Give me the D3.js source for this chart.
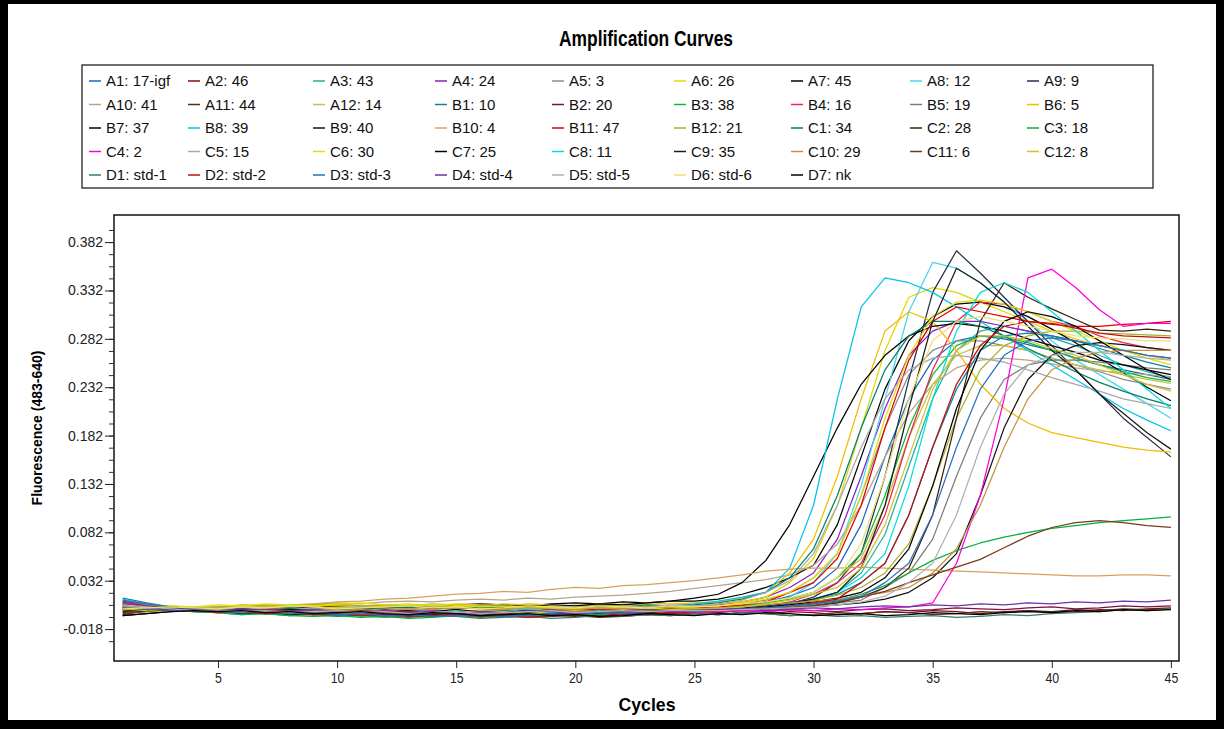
<!DOCTYPE html>
<html><head><meta charset="utf-8">
<script src="https://cdn.jsdelivr.net/npm/d3@7"></script>
<style>body{margin:0;background:#000;overflow:hidden}svg{display:block}</style>
</head><body>
<svg id="chart" width="1224" height="729"></svg>
<script>
// ---- data ----
const cycles = d3.range(1, 46);
const seriesNames = ["A1: 17-igf","A2: 46","A3: 43","A4: 24","A5: 3","A6: 26","A7: 45","A8: 12","A9: 9",
"A10: 41","A11: 44","A12: 14","B1: 10","B2: 20","B3: 38","B4: 16","B5: 19","B6: 5",
"B7: 37","B8: 39","B9: 40","B10: 4","B11: 47","B12: 21","C1: 34","C2: 28","C3: 18",
"C4: 2","C5: 15","C6: 30","C7: 25","C8: 11","C9: 35","C10: 29","C11: 6","C12: 8",
"D1: std-1","D2: std-2","D3: std-3","D4: std-4","D5: std-5","D6: std-6","D7: nk"];
const seriesColors = ["#1668b8","#8a0808","#20b0a0","#8a20c0","#8c8c8c","#e6d400","#000000","#48d4f0","#26304a",
"#b4a488","#5a2a1a","#c8c040","#0a84a0","#7a1048","#10b830","#f0205a","#7c7c7c","#f0bc00",
"#000000","#00c4e8","#141414","#d8a060","#e00000","#a8b030","#00806a","#3e2010","#00b040",
"#ff00dc","#a8a8a8","#e0e000","#000000","#00dede","#1c1c1c","#c89040","#7a3a18","#d0c030",
"#3a7a70","#c01010","#2a70c0","#7030a8","#b0b0b0","#ece070","#000000"];

const A1 = [.014,.009,.005,.003,.002,.001,.002,.000,-.001,.001,.000,-.002,.000,.001,-.001,.000,-.002,.001,.000,.002,.001,.000,.002,.003,.002,
 .004,.006,.01,.016,.025,.045,.09,.16,.22,.26,.28,.285,.282,.276,.27,.262,.255,.25,.245,.24];
const A2 = [.004,.002,.001,.000,-.001,.000,-.002,-.001,-.003,-.002,-.004,-.003,-.002,-.004,-.005,-.003,-.004,-.002,-.003,-.005,-.004,-.002,-.003,-.001,-.002,
 -.003,-.001,-.002,.000,-.001,-.003,-.002,.000,-.001,.001,.000,-.002,.000,.001,-.001,.000,.002,.001,.003,.004];
const A3 = [.008,.006,.004,.002,.001,.000,-.002,-.001,-.003,-.002,-.004,-.003,-.001,-.003,-.002,-.004,-.002,-.001,.000,-.002,.000,.001,.000,.002,.001,
 .003,.004,.006,.009,.013,.02,.04,.08,.15,.22,.27,.29,.295,.29,.283,.275,.265,.255,.248,.242];
const A4 = [.011,.007,.004,.003,.001,.002,.000,-.001,.001,.000,-.002,-.001,.000,-.003,-.001,.000,.001,-.001,.000,.002,.001,.003,.002,.004,.005,
 .007,.01,.015,.025,.04,.075,.14,.21,.265,.29,.3,.3,.295,.29,.285,.28,.275,.27,.265,.262];
const A5 = [.001,.002,.003,.002,.004,.003,.002,.004,.003,.005,.004,.003,.005,.004,.003,.005,.004,.006,.005,.004,.006,.005,.004,.006,.005,
 .006,.008,.012,.02,.035,.06,.12,.19,.245,.27,.28,.28,.275,.27,.262,.255,.248,.24,.235,.23];
const A6 = [.005,.003,.002,.003,.004,.003,.005,.004,.003,.005,.004,.006,.005,.004,.006,.005,.007,.006,.005,.007,.006,.008,.007,.006,.007,
 .008,.01,.015,.03,.055,.11,.19,.27,.325,.335,.33,.32,.31,.3,.29,.282,.275,.27,.265,.26];
const A7 = [.003,.002,.003,.004,.003,.005,.004,.003,.005,.006,.005,.007,.006,.005,.007,.008,.007,.006,.008,.009,.008,.01,.009,.011,.011,
 .013,.018,.025,.035,.048,.09,.16,.23,.28,.305,.318,.32,.315,.305,.292,.278,.262,.247,.232,.218];
const A8 = [.012,.007,.004,.002,.003,.001,.000,.002,.001,-.001,.000,.001,-.002,.000,.001,-.001,.000,.002,.001,.000,.002,.001,.003,.002,.003,
 .004,.006,.009,.015,.03,.06,.13,.22,.31,.361,.355,.34,.32,.3,.28,.26,.245,.23,.215,.2];
const A9 = [.006,.004,.002,.001,.002,.000,-.001,.001,.000,-.002,-.001,.000,-.003,-.001,.000,-.002,-.001,.001,.000,-.001,.001,.000,.002,.001,.002,
 .002,.004,.005,.008,.015,.03,.06,.14,.24,.33,.373,.35,.325,.3,.275,.25,.225,.2,.18,.16];
const A10 = [.004,.003,.004,.005,.004,.006,.007,.006,.008,.009,.008,.010,.011,.010,.012,.013,.012,.014,.013,.015,.016,.017,.019,.021,.024,
 .027,.03,.033,.038,.048,.07,.11,.16,.205,.235,.252,.26,.262,.26,.256,.252,.249,.247,.245,.243];
const A11 = [-.001,.001,.002,.001,.000,.002,.001,-.001,.000,-.002,-.001,-.003,-.002,-.004,-.003,-.005,-.004,-.006,-.005,-.004,-.006,-.005,-.003,-.004,-.002,
 -.003,-.001,-.002,-.004,-.003,-.001,-.002,.000,-.001,-.003,-.002,.000,-.001,.001,.000,.002,.001,.003,.002,.003];
const A12 = [.004,.005,.004,.003,.005,.006,.004,.005,.007,.006,.005,.007,.006,.008,.007,.006,.008,.007,.006,.005,.007,.006,.005,.006,.005,
 .005,.007,.01,.014,.02,.035,.055,.11,.18,.235,.265,.275,.275,.27,.262,.255,.25,.245,.24,.236];
const B1 = [.006,.004,.003,.002,.000,.001,-.001,.000,-.002,-.001,-.003,-.002,-.001,.000,-.002,-.001,.001,.000,-.001,.001,.000,.002,.001,.002,.002,
 .003,.004,.006,.008,.012,.018,.03,.05,.1,.17,.23,.27,.285,.288,.285,.28,.272,.265,.258,.252];
const B2 = [.007,.004,.002,.001,.003,.002,.000,.001,-.001,.000,-.002,-.001,.000,-.002,-.001,-.003,-.002,-.001,-.003,-.002,-.004,-.003,-.001,-.002,.000,
 -.001,.001,.000,.002,.001,.000,.002,.003,.001,.002,.004,.003,.002,.004,.005,.003,.004,.006,.005,.006];
const B3 = [.005,.003,.002,.000,-.001,-.003,-.002,-.004,-.003,-.005,-.004,-.006,-.004,-.005,-.003,-.004,-.002,-.003,-.001,-.002,.000,.001,.000,.002,.003,
 .004,.006,.009,.013,.02,.035,.06,.12,.19,.245,.275,.285,.284,.278,.27,.262,.255,.248,.242,.238];
const B4 = [.009,.006,.004,.002,.003,.002,.000,.001,.003,.001,-.001,.000,.002,.000,-.002,.001,.000,-.001,.001,.000,-.001,.001,.002,.000,.001,
 .002,.004,.006,.01,.018,.03,.05,.1,.18,.25,.3,.32,.318,.31,.3,.295,.285,.278,.273,.27];
const B5 = [.000,.001,.002,.001,.000,-.001,.001,.000,-.002,-.001,.000,-.002,-.001,-.003,-.002,-.001,-.003,-.002,-.001,.000,-.001,.001,.000,.001,.002,
 .002,.003,.004,.005,.007,.009,.012,.025,.04,.075,.14,.2,.24,.255,.26,.26,.258,.255,.252,.25];
const B6 = [.002,.003,.002,.004,.003,.005,.004,.006,.005,.007,.006,.005,.007,.006,.008,.007,.006,.008,.007,.006,.008,.007,.009,.008,.009,
 .01,.014,.02,.04,.075,.14,.22,.29,.31,.3,.27,.235,.21,.195,.185,.18,.175,.17,.167,.165];
const B7 = [.004,.003,.002,.003,.001,.002,.003,.002,.004,.003,.002,.004,.005,.004,.003,.005,.006,.005,.007,.006,.008,.007,.009,.011,.014,
 .018,.03,.053,.09,.14,.19,.235,.265,.285,.295,.298,.295,.29,.282,.275,.268,.26,.255,.25,.245];
const B8 = [.009,.004,.003,.002,.001,.002,.000,.001,.002,.001,-.001,.000,.002,.001,.000,.001,.003,.002,.001,.003,.002,.004,.005,.006,.008,
 .011,.015,.02,.045,.11,.22,.315,.345,.34,.33,.315,.3,.285,.27,.255,.24,.225,.21,.198,.187];
const B9 = [-.004,-.002,.000,.001,.000,-.002,-.001,-.003,-.002,-.004,-.003,-.002,-.004,-.003,-.001,-.003,-.002,-.004,-.002,-.001,-.002,.000,-.001,.001,.000,
 .001,.002,.003,.004,.005,.007,.009,.013,.02,.035,.06,.12,.19,.24,.265,.275,.278,.276,.273,.27];
const B10 = [.006,.004,.003,.004,.005,.004,.006,.007,.008,.010,.011,.013,.014,.016,.018,.019,.021,.020,.023,.025,.024,.027,.028,.030,.032,
 .035,.038,.042,.044,.045,.045,.046,.045,.044,.043,.042,.041,.040,.039,.038,.037,.037,.038,.038,.037];
const B11 = [.007,.005,.003,.001,.002,.000,.002,.001,-.001,.001,.000,.002,.001,-.001,.000,.001,-.002,.000,.002,.001,.003,.002,.001,.003,.004,
 .005,.007,.01,.02,.03,.055,.11,.19,.26,.3,.315,.31,.305,.3,.297,.295,.295,.297,.298,.3];
const B12 = [.003,.005,.006,.004,.005,.007,.006,.005,.007,.008,.006,.007,.005,.006,.004,.005,.003,.004,.002,.003,.004,.002,.003,.004,.003,
 .004,.005,.007,.009,.012,.017,.025,.04,.07,.13,.2,.25,.275,.285,.29,.29,.288,.287,.286,.285];
const C1 = [.003,.002,.003,.002,.001,.003,.002,.004,.003,.002,.004,.003,.005,.004,.003,.005,.004,.006,.005,.004,.006,.005,.007,.006,.007,
 .009,.013,.02,.035,.065,.12,.19,.25,.285,.3,.3,.295,.285,.272,.26,.248,.237,.228,.22,.213];
const C2 = [.000,.002,.003,.001,.002,.000,.001,-.001,.000,-.002,-.001,-.003,-.002,-.004,-.003,-.002,-.004,-.003,-.001,-.002,.000,-.001,.000,.001,.000,
 .001,.002,.003,.004,.006,.009,.015,.025,.045,.1,.2,.3,.34,.325,.313,.302,.291,.29,.292,.29];
const C3 = [.006,.004,.002,.000,-.001,-.003,-.002,-.004,-.005,-.004,-.006,-.005,-.007,-.006,-.004,-.006,-.005,-.003,-.004,-.002,-.003,-.001,.000,.001,.001,
 .002,.003,.004,.006,.008,.012,.018,.027,.04,.053,.063,.071,.077,.082,.086,.089,.092,.094,.096,.098];
const C4 = [.010,.008,.005,.003,.002,.001,.003,.002,.000,.001,-.002,.000,-.001,.001,-.003,-.001,.000,-.002,.001,-.001,.000,-.002,.001,.000,-.001,
 .000,.001,.000,.002,.001,.003,.002,.004,.005,.009,.05,.12,.22,.345,.354,.335,.312,.295,.298,.298];
const C5 = [.006,.004,.002,.003,.002,.004,.003,.002,.004,.003,.005,.004,.003,.005,.004,.006,.005,.004,.006,.005,.004,.006,.005,.007,.006,
 .008,.012,.02,.032,.06,.11,.17,.22,.25,.262,.265,.262,.258,.25,.242,.235,.228,.22,.215,.21];
const C6 = [.002,.004,.006,.005,.007,.006,.008,.007,.006,.008,.009,.007,.008,.006,.007,.005,.006,.004,.005,.003,.004,.005,.003,.004,.005,
 .006,.009,.013,.02,.035,.06,.12,.2,.265,.305,.32,.322,.318,.31,.3,.29,.28,.27,.262,.255];
const C7 = [.002,.001,.002,.003,.002,.001,.000,.002,.001,-.001,.000,.001,-.001,.000,.002,.000,-.001,.001,.000,-.001,.001,.000,.002,.001,.001,
 .002,.003,.005,.007,.01,.014,.02,.035,.065,.13,.21,.27,.3,.31,.305,.295,.28,.265,.25,.24];
const C8 = [.013,.008,.005,.003,.002,.000,.001,-.001,.000,-.002,-.001,.000,-.002,-.001,.001,-.001,.000,-.002,-.001,.000,.001,.000,.002,.001,.002,
 .003,.004,.006,.009,.013,.02,.035,.06,.13,.22,.29,.33,.34,.33,.31,.29,.27,.25,.23,.21];
const C9 = [-.003,.001,.002,.002,.001,.003,.001,.002,.000,.001,-.001,.000,.001,-.002,.000,.001,-.001,.000,.002,.001,.000,.002,.001,.003,.002,
 .003,.004,.006,.009,.013,.02,.045,.11,.21,.3,.355,.34,.32,.295,.27,.25,.225,.205,.185,.168];
const C10 = [.005,.003,.004,.002,.003,.001,.002,.000,.001,.003,.002,.001,.003,.002,.004,.003,.002,.004,.003,.002,.004,.003,.005,.004,.003,
 .004,.005,.007,.009,.011,.013,.016,.02,.025,.04,.065,.11,.17,.22,.25,.262,.268,.27,.27,.27];
const C11 = [-.002,.000,.001,.002,.001,.000,.002,.001,-.001,.000,.001,-.001,.000,-.002,-.001,.000,-.002,-.001,.000,.001,-.001,.000,.001,.002,.001,
 .002,.003,.003,.004,.006,.01,.015,.021,.03,.038,.046,.054,.066,.078,.087,.092,.094,.092,.089,.087];
const C12 = [.003,.001,.000,.002,.001,-.001,.000,-.002,-.001,.001,.000,-.002,-.001,.000,-.001,.001,.000,-.002,.000,.001,.000,.002,.001,.002,.003,
 .003,.005,.008,.012,.018,.025,.045,.09,.16,.23,.27,.285,.285,.28,.272,.265,.255,.245,.235,.228];
const D1 = [.012,.008,.005,.003,.002,.000,-.002,-.001,-.003,-.004,-.003,-.005,-.006,-.004,-.005,-.007,-.006,-.005,-.007,-.006,-.004,-.005,-.003,-.004,-.002,
 -.003,-.001,-.002,-.004,-.003,-.005,-.004,-.006,-.005,-.004,-.006,-.005,-.003,-.004,-.002,-.001,.000,.002,.001,.003];
const D2 = [.008,.005,.002,.001,-.001,.000,-.002,-.001,-.003,-.002,-.004,-.003,-.005,-.004,-.003,-.005,-.004,-.006,-.004,-.003,-.005,-.003,-.002,-.001,.000,
 .001,.002,.004,.006,.009,.013,.03,.05,.1,.17,.235,.275,.295,.3,.298,.293,.288,.285,.284,.283];
const D3 = [.004,.003,.001,.002,.000,-.001,.001,-.002,-.001,-.003,-.002,-.004,-.003,-.005,-.004,-.003,-.005,-.004,-.002,-.003,-.001,-.002,.000,.001,.000,
 .002,.003,.004,.006,.008,.011,.016,.03,.05,.1,.17,.23,.265,.28,.283,.28,.275,.27,.265,.262];
const D4 = [.010,.006,.004,.002,.001,.003,.001,.000,.002,.000,-.001,.001,-.001,.000,-.002,.000,-.001,.001,.000,-.002,.000,.001,.002,.000,.001,
 .002,.003,.001,.003,.004,.003,.005,.006,.005,.007,.006,.008,.007,.009,.008,.010,.009,.011,.010,.012];
const D5 = [.007,.005,.003,.001,.002,.000,.001,-.001,.000,.001,-.001,.000,-.002,-.001,.000,-.002,-.001,.000,.001,-.001,.000,.001,.000,.001,.001,
 .001,.002,.003,.004,.005,.007,.01,.016,.03,.05,.1,.17,.225,.255,.265,.268,.268,.265,.262,.26];
const D6 = [.003,.004,.005,.004,.003,.005,.004,.006,.005,.003,.004,.005,.006,.004,.005,.003,.004,.006,.005,.004,.006,.005,.004,.006,.005,
 .006,.008,.01,.014,.02,.035,.07,.14,.22,.28,.3,.305,.3,.295,.29,.285,.283,.282,.28,.28];
const D7 = [-.004,-.002,.000,.001,.000,.001,-.001,.000,-.002,-.001,.000,-.002,-.003,-.001,-.002,-.004,-.003,-.002,-.004,-.003,-.005,-.004,-.002,-.003,-.004,
 -.002,-.003,-.001,-.002,-.004,-.003,-.002,-.004,-.003,-.001,-.002,-.003,-.001,.000,-.001,.001,.000,.002,.001,.002];

const seriesValues = [A1,A2,A3,A4,A5,A6,A7,A8,A9,A10,A11,A12,B1,B2,B3,B4,B5,B6,B7,B8,B9,B10,B11,B12,
  C1,C2,C3,C4,C5,C6,C7,C8,C9,C10,C11,C12,D1,D2,D3,D4,D5,D6,D7];

const yTickValues = [0.382,0.332,0.282,0.232,0.182,0.132,0.082,0.032,-0.018];
const yTickLabels = ["0.382","0.332","0.282","0.232","0.182","0.132","0.082","0.032","-0.018"];
const xTickValues = [5,10,15,20,25,30,35,40,45];

// ---- drawing ----
const svg = d3.select("#chart");
const FONT = "'Liberation Sans', Arial, sans-serif";

svg.append("rect").attr("x",0).attr("y",0).attr("width",1224).attr("height",729).attr("fill","#000");
svg.append("rect").attr("x",8).attr("y",4).attr("width",1208).attr("height",716).attr("fill","#fff");

svg.append("text").attr("x",646).attr("y",46).attr("text-anchor","middle")
  .attr("font-family",FONT).attr("font-weight","bold").attr("font-size",22)
  .attr("textLength",174).attr("lengthAdjust","spacingAndGlyphs")
  .text("Amplification Curves");

// legend
const legBox = {x:82, y:65, w:1071, h:123};
svg.append("rect").attr("x",legBox.x).attr("y",legBox.y).attr("width",legBox.w).attr("height",legBox.h)
  .attr("fill","#fff").attr("stroke","#222").attr("stroke-width",1.3);
const nCols = 9;
const colStarts = [89, 188, 313, 435, 552, 674, 791, 910, 1027];
const rowY = d3.scaleLinear().domain([0,4]).range([81,175]);
const leg = svg.append("g").selectAll("g").data(seriesNames).join("g")
  .attr("transform",(d,i)=>`translate(${colStarts[i % nCols]},${rowY(Math.floor(i / nCols))})`);
leg.append("line").attr("x1",0).attr("x2",12).attr("y1",0).attr("y2",0)
  .attr("stroke",(d,i)=>seriesColors[i]).attr("stroke-width",1.5);
leg.append("text").attr("x",17).attr("y",0).attr("dy","0.35em")
  .attr("font-family",FONT).attr("font-size",15).attr("fill","#111").text(d=>d);

// plot
const plot = {l:114, r:1179, t:215, b:661};
const x = d3.scaleLinear().domain([0.635,45.34]).range([plot.l,plot.r]);
const y = d3.scaleLinear().domain([-0.051,0.410]).range([plot.b,plot.t]);

svg.append("defs").append("clipPath").attr("id","clip").append("rect")
  .attr("x",plot.l).attr("y",plot.t).attr("width",plot.r-plot.l).attr("height",plot.b-plot.t);

const line = d3.line().x((d,i)=>x(cycles[i])).y(d=>y(d));
svg.append("g").attr("clip-path","url(#clip)").selectAll("path").data(seriesValues).join("path")
  .attr("d",line).attr("fill","none").attr("stroke",(d,i)=>seriesColors[i])
  .attr("stroke-width",1.25).attr("stroke-linejoin","round");

// frame
svg.append("rect").attr("x",plot.l).attr("y",plot.t).attr("width",plot.r-plot.l).attr("height",plot.b-plot.t)
  .attr("fill","none").attr("stroke","#111").attr("stroke-width",1.5);

// y axis
const minorY = d3.range(-0.0305, 0.405, 0.0125);
svg.append("g").attr("transform",`translate(${plot.l},0)`)
  .call(d3.axisLeft(y).tickValues(minorY).tickSize(5).tickFormat(""))
  .call(g=>{g.select(".domain").remove(); g.selectAll("line").attr("stroke","#333");});
svg.append("g").attr("transform",`translate(${plot.l},0)`)
  .call(d3.axisLeft(y).tickValues(yTickValues).tickSize(9).tickPadding(2)
    .tickFormat((d,i)=>yTickLabels[i]))
  .call(g=>{g.select(".domain").remove(); g.selectAll("line").attr("stroke","#222");
    g.selectAll("text").attr("font-family",FONT).attr("font-size",14).attr("fill","#222");});

// x axis
svg.append("g").attr("transform",`translate(0,${plot.b})`)
  .call(d3.axisBottom(x).tickValues(xTickValues).tickSize(7).tickPadding(4).tickFormat(d3.format("d")))
  .call(g=>{g.select(".domain").remove(); g.selectAll("line").attr("stroke","#222");
    g.selectAll("text").attr("font-family",FONT).attr("font-size",15).attr("fill","#222")
      .each(function(){ const w=this.getComputedTextLength();
        d3.select(this).attr("textLength",w*0.82).attr("lengthAdjust","spacingAndGlyphs"); });});

svg.append("text").attr("x",647).attr("y",711).attr("text-anchor","middle")
  .attr("font-family",FONT).attr("font-weight","bold").attr("font-size",18)
  .attr("textLength",57).attr("lengthAdjust","spacingAndGlyphs").text("Cycles");
svg.append("text").attr("transform","translate(42,428) rotate(-90)").attr("text-anchor","middle")
  .attr("font-family",FONT).attr("font-weight","bold").attr("font-size",14).text("Fluorescence (483-640)");
</script>
</body></html>
